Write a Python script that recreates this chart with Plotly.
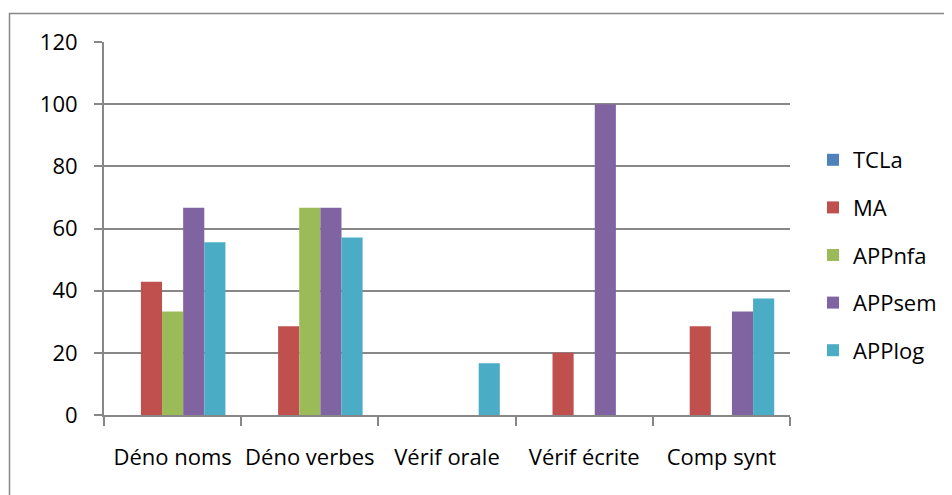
import plotly.graph_objects as go

categories = ["Déno noms", "Déno verbes", "Vérif orale", "Vérif écrite", "Comp synt"]
series_names = ["TCLa", "MA", "APPnfa", "APPsem", "APPlog"]
tcla = [0, 0, 0, 0, 0]
ma = [42.86, 28.57, 0, 20, 28.57]
appnfa = [33.33, 66.67, 0, 0, 0]
appsem = [66.67, 66.67, 0, 100, 33.33]
applog = [55.56, 57.14, 16.67, 0, 37.5]
y_ticks = [0, 20, 40, 60, 80, 100, 120]

values = [tcla, ma, appnfa, appsem, applog]
colors = ["#4F81BD", "#C0504D", "#9BBB59", "#8064A2", "#4BACC6"]

FONT = "Open Sans"
GRAY = "#878787"
fig = go.Figure()
for name, vals, col in zip(series_names, values, colors):
    fig.add_trace(go.Bar(x=categories, y=vals, name=name, legendgroup=name,
                         marker=dict(color=col, line=dict(width=0))))

# page body adds an 8px offset; compensate
OFF = 8
W, H = 952 - OFF, 495 - OFF
L, R, T, B = 104 - OFF, 162, 42 - OFF, 80
pw, ph = W - L - R, H - T - B

def px_to_paper(x, y):
    # x, y in window pixel coordinates
    return (x - OFF - L) / pw, (H - B - (y - OFF)) / ph

x0, y0 = px_to_paper(9.5, 13.5)
x1, y1 = px_to_paper(1000, 560)
lx, ly = px_to_paper(813, 139)

fig.update_layout(
    width=W, height=H,
    margin=dict(l=L, r=R, t=T, b=B, autoexpand=False),
    paper_bgcolor="white", plot_bgcolor="white",
    barmode="group", bargap=0.23, bargroupgap=0,
    font=dict(family=FONT, size=22, color="black"),
    showlegend=True,
    legend=dict(x=lx, xanchor="left", y=ly, yanchor="top",
                font=dict(family=FONT, size=22, color="black"),
                tracegroupgap=16, bgcolor="rgba(0,0,0,0)"),
    shapes=[dict(type="rect", xref="paper", yref="paper", x0=x0, y0=y0, x1=x1, y1=y1,
                 line=dict(color=GRAY, width=1.5), fillcolor="rgba(0,0,0,0)", layer="below")],
)
fig.update_yaxes(range=[0, 120], tickvals=y_ticks, showgrid=True, gridcolor=GRAY, gridwidth=1.6,
                 showline=True, linecolor=GRAY, linewidth=2, ticks="outside", ticklen=8,
                 tickwidth=1.6, tickcolor=GRAY, zeroline=False, ticklabelstandoff=12, automargin=False,
                 tickfont=dict(family=FONT, size=22, color="black"))
fig.update_xaxes(showline=True, linecolor=GRAY, linewidth=2, ticks="outside", ticklen=9,
                 tickwidth=1.6, tickcolor=GRAY, tickson="boundaries", showgrid=False, tickangle=0,
                 automargin=False, ticklabelstandoff=22,
                 tickfont=dict(family=FONT, size=22, color="black"))

fig.write_html("out.html")
